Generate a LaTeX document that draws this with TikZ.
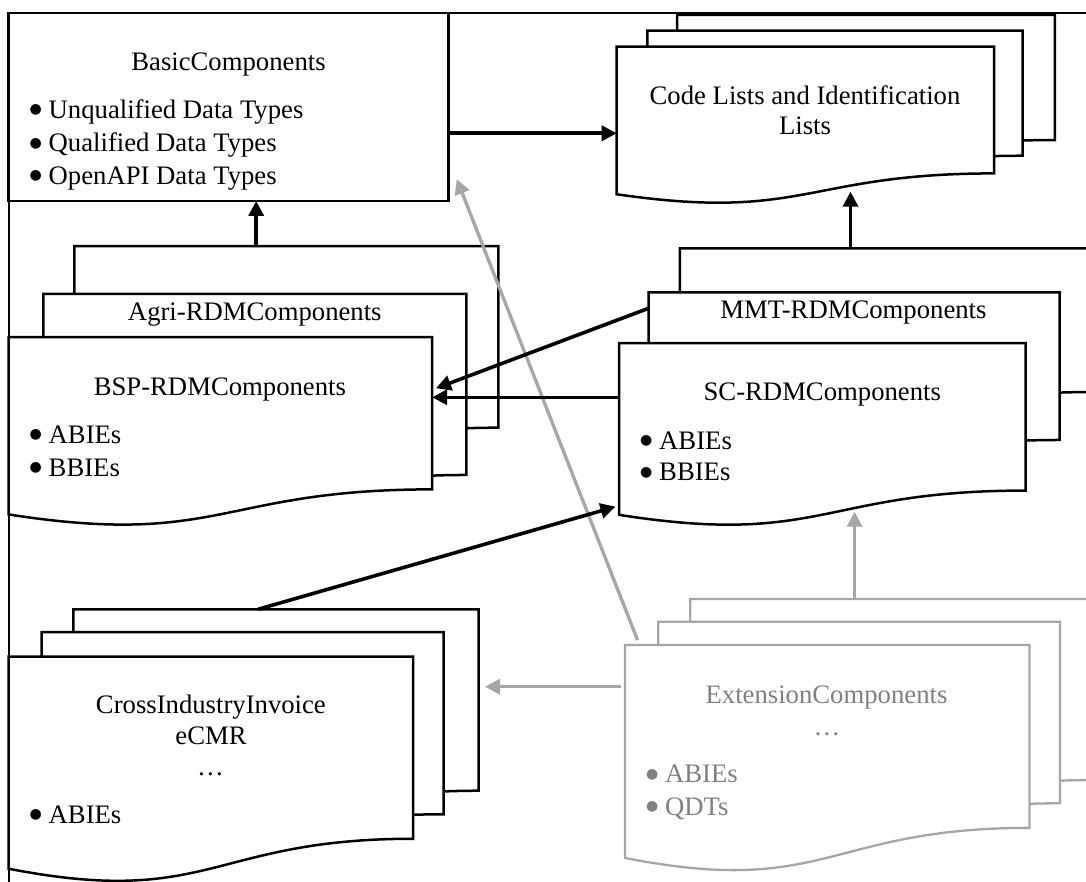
\documentclass[tikz,border=0pt]{standalone}
\usepackage{fontspec}
\setmainfont{Liberation Serif}
\newfontfamily\bulfont{DejaVu Sans}
\usetikzlibrary{arrows.meta}
\definecolor{linegray}{HTML}{A6A6A6}
\definecolor{textgray}{HTML}{808080}
\newcommand\mainfs{\fontsize{26.7pt}{32pt}\selectfont}
\newcommand\bitem[1]{\makebox[22.5pt][l]{\hspace*{3.5pt}\raisebox{4.6pt}{\bulfont\fontsize{14pt}{16pt}\selectfont ●}}#1}
\newcommand\docbox[6]{%
  \path[#6] (#2,#3) -- (#4,#3) -- (#4,{#3+0.802*#5})
    .. controls ({(#2+#4)/2},{#3+0.802*#5}) and ({(#2+#4)/2},{#3+1.1075*#5}) .. (#2,{#3+0.934*#5}) -- cycle;
  \node[boxnode, minimum width={(#4-#2)*1pt}, minimum height={(#5)*1pt}] (#1) at ({(#2+#4)/2},{#3+(#5)/2}) {};
}
\tikzset{
  blk/.style={draw=black, fill=white, line width=2.5pt, line join=miter},
  gry/.style={draw=linegray, fill=white, line width=2.3pt, line join=miter},
  boxnode/.style={inner sep=0pt, outer sep=0pt, draw=none, rectangle},
  arr/.style={line width=3.6pt, -{Triangle[length=15pt,width=15pt]}},
  garr/.style={arr, line width=3.3pt, draw=linegray, fill=linegray},
  txt/.style={inner sep=0pt, anchor=base, font=\mainfs},
  ltxt/.style={txt, anchor=base west},
  gtxt/.style={text=textgray}
}
\begin{document}
\begin{tikzpicture}[x=1pt,y=-1pt]
\useasboundingbox (0,0) rectangle (1086,882);
\clip (0,0) rectangle (1086,882);
\fill[white] (0,0) rectangle (1086,882);
% frame
\draw[line width=2.2pt] (8.7,882) -- (8.7,12.8) -- (1086,12.8);
% BasicComponents
\node[boxnode, blk, minimum width=439.6pt, minimum height=188pt] (basic) at (228.5,107) {};
% Code lists stack
\docbox{clback}{677}{15}{1054.8}{155.9}{blk}
\docbox{clmid}{647.3}{30.7}{1022.6}{155.9}{blk}
\docbox{cl}{616.7}{46.7}{994.2}{158}{blk}
% Agri / BSP stack
\docbox{agriback}{74.4}{246.2}{498.4}{226.3}{blk}
\docbox{agri}{43.3}{293.8}{466.4}{225.9}{blk}
\docbox{bsp}{8.7}{337}{432.2}{190}{blk}
% MMT / SC stack
\docbox{mmtback}{679.8}{248.3}{1095}{179.2}{blk}
\docbox{mmt}{648.6}{292.5}{1059.7}{183.9}{blk}
\docbox{sc}{619.2}{343}{1025.5}{184}{blk}
% Cross industry stack
\docbox{crossback}{73.4}{609.3}{478.6}{226.2}{blk}
\docbox{crossmid}{41.6}{632.2}{443.6}{227}{blk}
\docbox{cross}{8.7}{656.7}{413.1}{227}{blk}
% Extension stack
\docbox{extback}{690.2}{599}{1095}{225.7}{gry}
\docbox{extmid}{658.3}{621.7}{1060}{226.4}{gry}
\docbox{ext}{625}{645}{1029.5}{228}{gry}
% texts
\node[txt] (tbasic) at (228.5,71) {BasicComponents};
\node[ltxt] (lb1) at (26,118.3) {\bitem{Unqualified Data Types}};
\node[ltxt] (lb2) at (26,151.7) {\bitem{Qualified Data Types}};
\node[ltxt] (lb3) at (26,184.3) {\bitem{OpenAPI Data Types}};
\node[txt] (tcl1) at (805,105) {Code Lists and Identification};
\node[txt] (tcl2) at (805,135) {Lists};
\node[txt] (tagri) at (254.8,320) {Agri-RDMComponents};
\node[txt] (tbsp) at (219.9,395) {BSP-RDMComponents};
\node[ltxt] (ls1) at (26,443.3) {\bitem{ABIEs}};
\node[ltxt] (ls2) at (26,476) {\bitem{BBIEs}};
\node[txt] (tmmt) at (853.5,318.3) {MMT-RDMComponents};
\node[txt] (tsc) at (822.3,400) {SC-RDMComponents};
\node[ltxt] (lc1) at (636.5,449) {\bitem{ABIEs}};
\node[ltxt] (lc2) at (636.5,480.7) {\bitem{BBIEs}};
\node[txt] (tcross1) at (210.9,713.3) {CrossIndustryInvoice};
\node[txt] (tcross2) at (211,744.3) {eCMR};
\node[txt] (tcross3) at (210.5,775) {…};
\node[ltxt] (lx1) at (26,823.3) {\bitem{ABIEs}};
\node[txt, gtxt] (text1) at (826.5,703.3) {ExtensionComponents};
\node[txt, gtxt] (text2) at (827,735) {…};
\node[ltxt, gtxt] (le1) at (642.4,782.7) {\bitem{ABIEs}};
\node[ltxt, gtxt] (le2) at (642.4,815) {\bitem{QDTs}};
% gray connectors
\draw[garr] ([xshift=12.5pt,yshift=5pt]ext.north west) -- ([xshift=8.4pt,yshift=22pt]basic.south east);
\draw[garr] ([xshift=-38pt]extback.north) -- ([xshift=32.25pt,yshift=15.3pt]sc.south);
\draw[garr] ([xshift=-4pt,yshift=72.3pt]ext.west) -- ([xshift=6.4pt,yshift=35.7pt]crossback.east);
% black connectors
\draw[arr] ([yshift=-26.3pt]basic.east) -- ([yshift=-7.6pt]cl.west);
\draw[arr] ([xshift=-30.2pt]agriback.north) -- ([xshift=27.7pt]basic.south);
\draw[arr] ([xshift=-36.9pt]mmtback.north) -- ([xshift=45.05pt,yshift=13pt]cl.south);
\draw[arr] ([yshift=-15.8pt]mmt.north west) -- ([xshift=3.8pt,yshift=43.7pt]bsp.east);
\draw[arr] ([yshift=37.7pt]sc.west) -- ([yshift=34.7pt]bsp.east);
\draw[arr] ([xshift=-18pt]crossback.north) -- ([xshift=-3.7pt,yshift=20.3pt]sc.south west);
\end{tikzpicture}
\end{document}
